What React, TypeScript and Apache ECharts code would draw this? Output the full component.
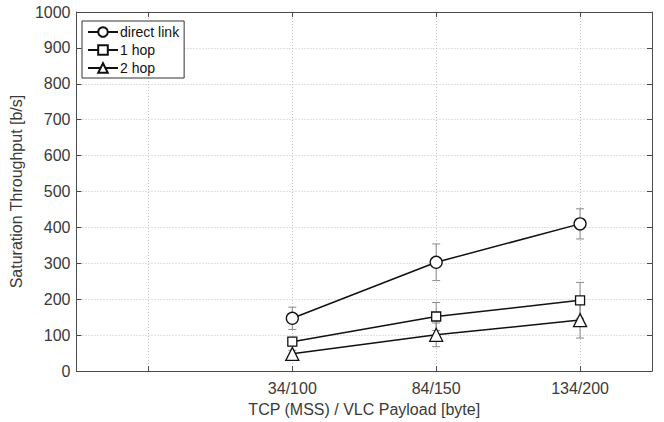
import React, { useEffect, useRef } from "react";
import * as echarts from "echarts";

// Payload sizes along the x axis; they sit on ticks 2..4 of a 1..4 grid
const categories = ["34/100", "84/150", "134/200"];
const firstCategoryTick = 2;

const seriesNames = ["direct link", "1 hop", "2 hop"];
const directLink = [147, 303, 410];
const directLinkErr = [31, 51, 42];
const oneHop = [82, 152, 197];
const oneHopErr = [12, 39, 50];
const twoHop = [48, 101, 142];
const twoHopErr = [10, 33, 50];

const yTicks = [0, 100, 200, 300, 400, 500, 600, 700, 800, 900, 1000];

const FONT = "Liberation Sans, Arial, Helvetica, sans-serif";
const TEXT = "#3a3a3a";
const AXIS = "#4a4a4a";

const xPos = (i: number) => i + firstCategoryTick;

function errorSeries(values: number[], errs: number[]) {
  return {
    type: "custom",
    silent: true,
    z: 1,
    data: values.map((v, i) => [xPos(i), v, errs[i]]),
    renderItem: (_params: any, api: any) => {
      const x = api.value(0);
      const v = api.value(1);
      const e = api.value(2);
      const top = api.coord([x, v + e]);
      const bot = api.coord([x, v - e]);
      const cap = 4;
      const style = { stroke: "#8a8a8a", lineWidth: 1 };
      return {
        type: "group",
        children: [
          { type: "line", shape: { x1: top[0], y1: top[1], x2: bot[0], y2: bot[1] }, style },
          { type: "line", shape: { x1: top[0] - cap, y1: top[1], x2: top[0] + cap, y2: top[1] }, style },
          { type: "line", shape: { x1: bot[0] - cap, y1: bot[1], x2: bot[0] + cap, y2: bot[1] }, style },
        ],
      };
    },
  };
}

function lineSeries(name: string, values: number[], symbol: string, size: number) {
  return {
    type: "line",
    name,
    z: 3,
    data: values.map((v, i) => [xPos(i), v]),
    symbol,
    symbolSize: size,
    showAllSymbol: true,
    lineStyle: { color: "#111", width: 1.5 },
    itemStyle: { color: "#fff", borderColor: "#111", borderWidth: 1.3 },
  };
}

export default function App() {
  const ref = useRef<HTMLDivElement>(null);

  useEffect(() => {
    if (!ref.current) return;
    const chart = echarts.init(ref.current, undefined, { renderer: "svg" });
    const tickValues = [1, 2, 3, 4];
    const labelValues = categories.map((_, i) => xPos(i));
    const splitLine = { show: true, lineStyle: { color: "#c4c4c4", type: [1, 2], width: 1 } };

    chart.setOption({
      animation: false,
      backgroundColor: "#fff",
      textStyle: { fontFamily: FONT },
      grid: { left: 72, top: 12, width: 580, height: 362, containLabel: false },
      legend: {
        orient: "vertical",
        left: 82,
        top: 21,
        data: seriesNames,
        itemWidth: 30,
        itemHeight: 12,
        itemGap: 4,
        padding: [4, 5, 3, 5],
        borderColor: "#333",
        borderWidth: 1,
        backgroundColor: "#fff",
        textStyle: { fontFamily: FONT, fontSize: 14, color: "#111", padding: [0, 0, 0, -3] },
      },
      xAxis: [
        {
          type: "value",
          min: 0.5,
          max: 4.5,
          name: "TCP (MSS) / VLC Payload [byte]",
          nameLocation: "middle",
          nameGap: 28,
          nameTextStyle: { fontFamily: FONT, fontSize: 16, color: TEXT },
          axisLine: { show: true, onZero: false, lineStyle: { color: AXIS, width: 1 } },
          axisTick: { show: true, inside: true, length: 5, customValues: tickValues, lineStyle: { color: AXIS } },
          axisLabel: {
            customValues: labelValues,
            fontFamily: FONT,
            fontSize: 16,
            color: TEXT,
            margin: 9,
            formatter: (v: number) => categories[Math.round(v) - firstCategoryTick] ?? "",
          },
          splitLine,
        },
        {
          type: "value",
          position: "top",
          min: 0.5,
          max: 4.5,
          axisLine: { show: true, onZero: false, lineStyle: { color: AXIS, width: 1 } },
          axisTick: { show: true, inside: true, length: 5, customValues: tickValues, lineStyle: { color: AXIS } },
          axisLabel: { show: false },
          splitLine: { show: false },
        },
      ],
      yAxis: [
        {
          type: "value",
          min: yTicks[0],
          max: yTicks[yTicks.length - 1],
          interval: 100,
          name: "Saturation Throughput [b/s]",
          nameLocation: "middle",
          nameGap: 48,
          nameTextStyle: { fontFamily: FONT, fontSize: 16, color: TEXT },
          axisLine: { show: true, lineStyle: { color: AXIS, width: 1 } },
          axisTick: { show: true, inside: true, length: 5, lineStyle: { color: AXIS } },
          axisLabel: { fontFamily: FONT, fontSize: 16, color: TEXT, margin: 6, formatter: (v: number) => String(v) },
          splitLine,
        },
        {
          type: "value",
          position: "right",
          min: yTicks[0],
          max: yTicks[yTicks.length - 1],
          interval: 100,
          axisLine: { show: true, lineStyle: { color: AXIS, width: 1 } },
          axisTick: { show: true, inside: true, length: 5, lineStyle: { color: AXIS } },
          axisLabel: { show: false },
          splitLine: { show: false },
        },
      ],
      series: [
        errorSeries(directLink, directLinkErr),
        errorSeries(oneHop, oneHopErr),
        errorSeries(twoHop, twoHopErr),
        lineSeries(seriesNames[0], directLink, "circle", 12),
        lineSeries(seriesNames[1], oneHop, "rect", 9),
        lineSeries(seriesNames[2], twoHop, "triangle", 13),
      ],
    });

    return () => chart.dispose();
  }, []);

  return <div ref={ref} style={{ width: 664, height: 422, position: "absolute", left: 0, top: 0 }} />;
}
